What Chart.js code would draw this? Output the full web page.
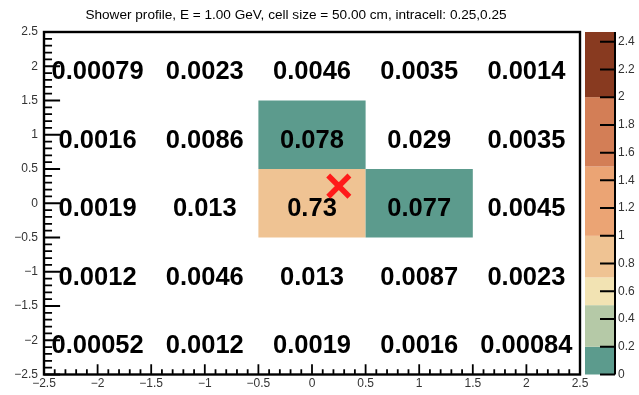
<!DOCTYPE html>
<html>
<head>
<meta charset="utf-8">
<script src="https://cdn.jsdelivr.net/npm/chart.js@4"></script>
<style>
  html, body { margin: 0; padding: 0; background: #fff; }
  #wrap { width: 639px; height: 395px; position: relative; }
</style>
</head>
<body>
<div id="wrap"><canvas id="profile"></canvas></div>
<script>
// cell centres (cm / cell size) and deposited energy fraction per cell
const xCenters = [-2, -1, 0, 1, 2];
const yCenters = [2, 1, 0, -1, -2];
const cellValues = [
    [0.00079, 0.0023, 0.0046, 0.0035, 0.0014],
    [0.0016, 0.0086, 0.078, 0.029, 0.0035],
    [0.0019, 0.013, 0.73, 0.077, 0.0045],
    [0.0012, 0.0046, 0.013, 0.0087, 0.0023],
    [0.00052, 0.0012, 0.0019, 0.0016, 0.00084]
];
const binWidth = 1;
const minDrawn = 0.05;

// impact point of the shower
const impactX = [0.25];
const impactY = [0.25];

// axis ticks
const xTicks = [-2.5, -2, -1.5, -1, -0.5, 0, 0.5, 1, 1.5, 2, 2.5];
const yTicks = [-2.5, -2, -1.5, -1, -0.5, 0, 0.5, 1, 1.5, 2, 2.5];
const zTicks = [0, 0.2, 0.4, 0.6, 0.8, 1, 1.2, 1.4, 1.6, 1.8, 2, 2.2, 2.4];
const zMax = 2.47;

// contour levels of the palette and their colours
const zLevels = [0, 0.2, 0.5, 0.7, 1.0, 1.5, 2.0, zMax];
const zColors = ['#5c9b8d', '#b5c9a7', '#f2e3b3', '#efc393', '#eba474', '#d37e56', '#883a20'];

const fmtTick = v => String(v).replace('-', '\u2212');
const fmtCell = v => String(Number(v.toPrecision(2)));

function colorFor(v) {
    for (let i = 0; i < zColors.length; i++) {
        if (v < zLevels[i + 1]) return zColors[i];
    }
    return zColors[zColors.length - 1];
}

const tickFont = { family: 'Liberation Sans', size: 12 };
const tickColor = '#333';

const heatmapLayer = {
    id: 'heatmapLayer',
    beforeDatasetsDraw(chart) {
        const { ctx, scales: { x, y } } = chart;
        ctx.save();
        yCenters.forEach((yc, r) => {
            xCenters.forEach((xc, c) => {
                const v = cellValues[r][c];
                if (v < minDrawn) return;
                const l = x.getPixelForValue(xc - binWidth / 2);
                const rr = x.getPixelForValue(xc + binWidth / 2);
                const t = y.getPixelForValue(yc + binWidth / 2);
                const b = y.getPixelForValue(yc - binWidth / 2);
                ctx.fillStyle = colorFor(v);
                ctx.fillRect(l, t, rr - l, b - t);
            });
        });
        ctx.fillStyle = '#000';
        ctx.font = 'bold 25.5px "Liberation Sans"';
        ctx.textAlign = 'center';
        ctx.textBaseline = 'alphabetic';
        yCenters.forEach((yc, r) => {
            xCenters.forEach((xc, c) => {
                ctx.fillText(fmtCell(cellValues[r][c]), x.getPixelForValue(xc), y.getPixelForValue(yc) + 13);
            });
        });
        ctx.restore();
    },
    afterDraw(chart) {
        const { ctx, chartArea: area, scales: { x, y, z } } = chart;
        ctx.save();

        // palette
        const barL = z.left + 5, barR = z.left + 35;
        for (let i = 0; i < zColors.length; i++) {
            const top = z.getPixelForValue(zLevels[i + 1]);
            const bot = z.getPixelForValue(zLevels[i]);
            ctx.fillStyle = zColors[i];
            ctx.fillRect(barL, top, barR - barL, bot - top);
        }
        ctx.strokeStyle = '#000';
        ctx.lineWidth = 2;
        ctx.beginPath();
        ctx.moveTo(barR, z.getPixelForValue(0));
        ctx.lineTo(barR, z.getPixelForValue(zMax));
        zTicks.forEach(v => {
            const py = z.getPixelForValue(v);
            ctx.moveTo(barR, py);
            ctx.lineTo(barR - 15, py);
        });
        ctx.stroke();

        // frame
        ctx.lineWidth = 2.4;
        ctx.strokeRect(area.left, area.top, area.right - area.left, area.bottom - area.top);

        // ticks pointing into the frame
        ctx.lineWidth = 1.8;
        ctx.beginPath();
        const xMajor = (area.bottom - area.top) * 0.03;
        const yMajor = (area.right - area.left) * 0.03;
        for (let i = 0; i < xTicks.length - 1; i++) {
            for (let k = 0; k < 5; k++) {
                const v = xTicks[i] + k * 0.1;
                const len = k === 0 ? xMajor : xMajor / 2;
                const px = x.getPixelForValue(v);
                ctx.moveTo(px, area.bottom);
                ctx.lineTo(px, area.bottom - len);
            }
        }
        for (let i = 0; i < yTicks.length - 1; i++) {
            for (let k = 0; k < 5; k++) {
                const v = yTicks[i] + k * 0.1;
                const len = k === 0 ? yMajor : yMajor / 2;
                const py = y.getPixelForValue(v);
                ctx.moveTo(area.left, py);
                ctx.lineTo(area.left + len, py);
            }
        }
        ctx.stroke();

        // title
        ctx.fillStyle = '#000';
        ctx.font = '13.6px "Liberation Sans"';
        ctx.textAlign = 'center';
        ctx.textBaseline = 'alphabetic';
        ctx.fillText('Shower profile, E = 1.00 GeV, cell size = 50.00 cm, intracell: 0.25,0.25', 296, 19);
        ctx.restore();
    }
};

new Chart(document.getElementById('profile'), {
    type: 'scatter',
    data: {
        datasets: [{
            data: impactX.map((v, i) => ({ x: v, y: impactY[i] })),
            pointStyle: 'crossRot',
            radius: 15,
            borderWidth: 5.5,
            borderColor: '#ff1a1a',
            backgroundColor: '#ff1a1a'
        }]
    },
    options: {
        responsive: true,
        maintainAspectRatio: false,
        animation: false,
        layout: { padding: { top: 32, left: 0, right: 0, bottom: 0 } },
        plugins: { legend: { display: false }, tooltip: { enabled: false }, title: { display: false } },
        scales: {
            x: {
                type: 'linear', min: -2.5, max: 2.5,
                grid: { display: false, drawTicks: false },
                border: { display: false },
                afterBuildTicks: s => { s.ticks = xTicks.map(v => ({ value: v })); },
                afterFit: s => { s.height = 17; },
                ticks: { font: tickFont, color: tickColor, padding: 2, maxRotation: 0, autoSkip: false, callback: fmtTick }
            },
            y: {
                type: 'linear', min: -2.5, max: 2.5,
                grid: { display: false, drawTicks: false },
                border: { display: false },
                afterBuildTicks: s => { s.ticks = yTicks.map(v => ({ value: v })); },
                afterFit: s => { s.width = 44; },
                ticks: { font: tickFont, color: tickColor, padding: 6, autoSkip: false, callback: fmtTick }
            },
            z: {
                type: 'linear', position: 'right', min: 0, max: zMax,
                grid: { display: true, drawOnChartArea: false, drawTicks: true, tickLength: 35, tickColor: 'transparent' },
                border: { display: false },
                afterBuildTicks: s => { s.ticks = zTicks.map(v => ({ value: v })); },
                afterFit: s => { s.width = 59; },
                ticks: { font: tickFont, color: tickColor, padding: 3, autoSkip: false, callback: fmtTick }
            }
        }
    },
    plugins: [heatmapLayer]
});
</script>
</body>
</html>
